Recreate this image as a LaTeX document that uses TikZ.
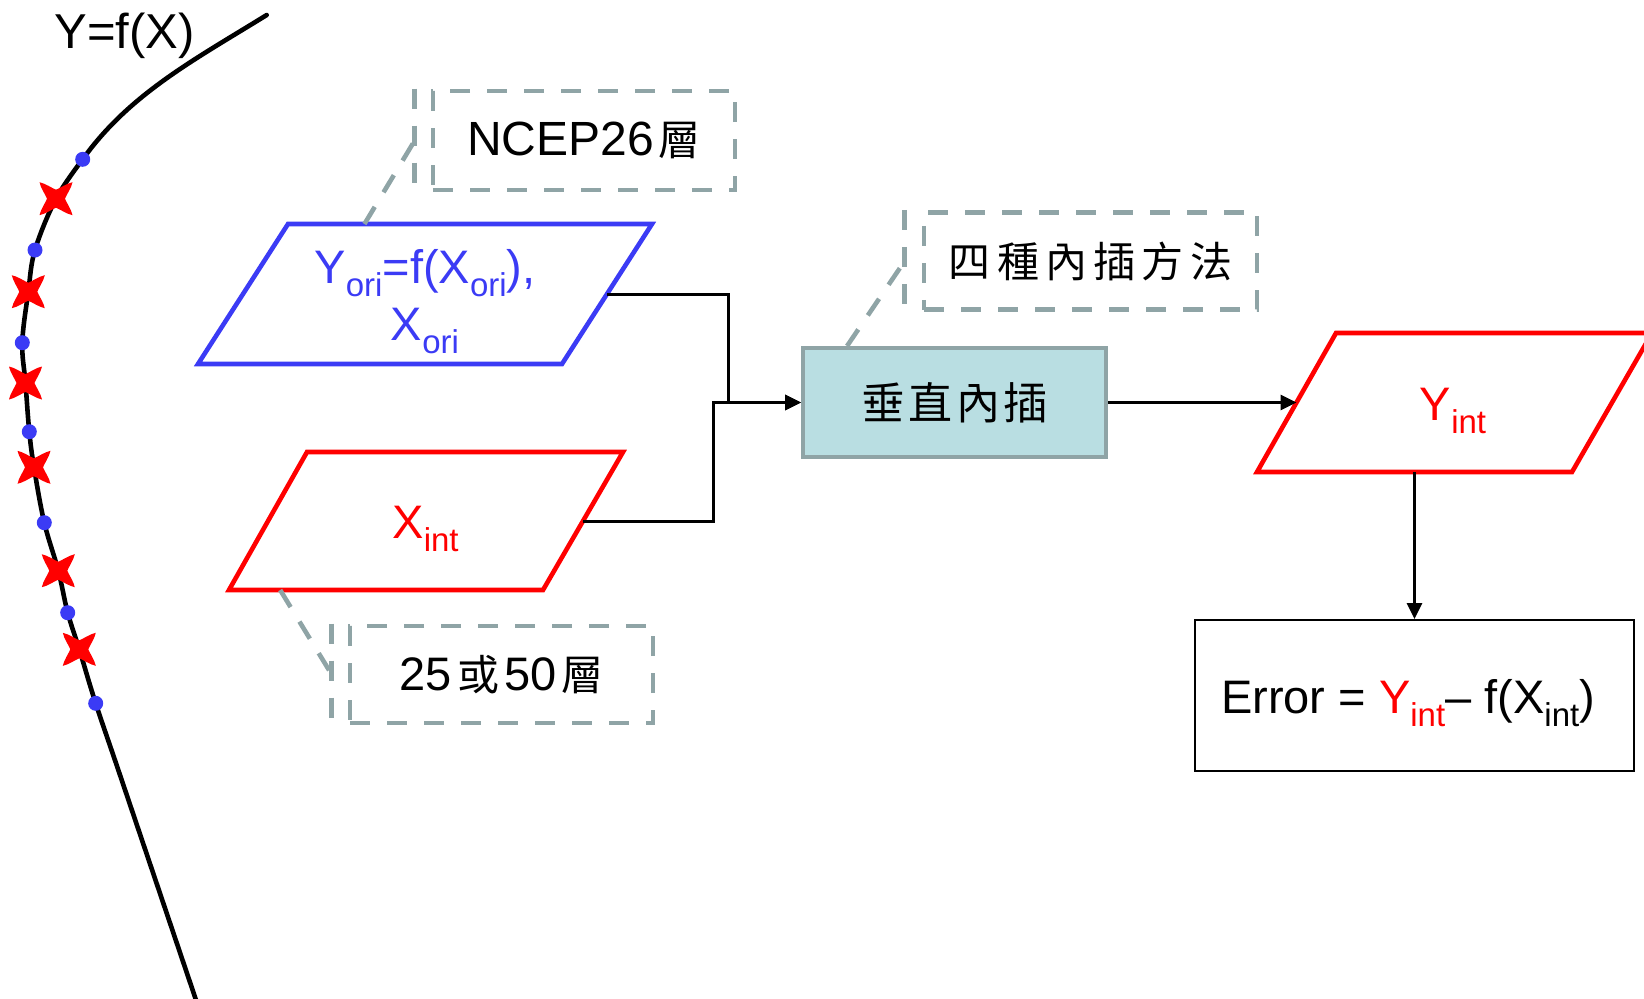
\documentclass[tikz,border=0pt]{standalone}
\usepackage{fontspec}
\setmainfont{Liberation Sans}
\newfontfamily\cjk{Noto Sans CJK TC}
\newfontfamily\cjkspaced[LetterSpace=8]{Noto Sans CJK TC}
\newfontfamily\cjkwide[LetterSpace=15]{Noto Sans CJK TC}
\usetikzlibrary{arrows.meta,calc}

\definecolor{xblue}{RGB}{59,59,245}
\definecolor{xred}{RGB}{255,0,0}
\definecolor{cgray}{RGB}{143,164,166}
\definecolor{procfill}{RGB}{185,222,226}

% lowered, smaller index text
\newcommand\lowidx[1]{\raisebox{-6.6pt}{\fontsize{16.5}{16.5}\selectfont #1}}
% Chinese glyphs inside Latin labels
\newcommand\hz[1]{\hspace{2.5pt}{\cjk\fontsize{21}{26}\selectfont #1}\hspace{2.5pt}}

\tikzset{
  lbl/.style={inner sep=0pt, font=\fontsize{23.5}{28}\selectfont},
  ioline/.style={line width=2.3pt, line join=miter},
  callbox/.style={draw=cgray, line width=2.3pt, dash pattern=on 10pt off 8.5pt,
    inner sep=0pt, font=\fontsize{23.5}{28}\selectfont},
  callline/.style={draw=cgray, line width=2.3pt, dash pattern=on 10pt off 8.5pt},
  procbox/.style={draw=cgray, fill=procfill, line width=2pt,
    minimum width=151.5pt, minimum height=54.5pt, inner sep=0pt,
    font=\cjkspaced\fontsize{22}{26}\selectfont},
  errbox/.style={draw=black, line width=1pt, minimum width=219.5pt, minimum height=75.5pt},
  conn/.style={line width=1.5pt, -{Triangle[length=8pt,width=7.5pt]}},
  curve/.style={line width=2.3pt, line cap=round},
  % four-petal cross marker
  redx/.pic={\fill[xred]
      (16.5,16.5) .. controls (11,15.5) and (3,10) .. (0,9)
      .. controls (-3,10) and (-11,15.5) .. (-16.5,16.5)
      .. controls (-15.5,11) and (-10,3) .. (-9,0)
      .. controls (-10,-3) and (-15.5,-11) .. (-16.5,-16.5)
      .. controls (-11,-15.5) and (-3,-10) .. (0,-9)
      .. controls (3,-10) and (11,-15.5) .. (16.5,-16.5)
      .. controls (15.5,-11) and (10,-3) .. (9,0)
      .. controls (10,3) and (15.5,11) .. (16.5,16.5) -- cycle;}
}

\begin{document}
\begin{tikzpicture}[x=0.5pt,y=-0.5pt]
\useasboundingbox (0,0) rectangle (1644,998);
\clip (0,0) rectangle (1644,998);

% profile curve: upper arc, then the sampled lower part
\draw[curve] (266.7,15) .. controls (196.7,58.4) and (129.7,93.3) .. (82.7,159.3);
\draw[curve] plot[smooth, tension=0.6] coordinates {
  (82.7,159.3) (56,198.7) (35,250) (28.3,291.7)
  (22.3,342.7) (25.5,383) (29.3,431.7) (34,467.3) (44.3,522.7) (58.3,570.7)
  (67.7,612.7) (79.3,649.3) (95.7,703.3) (121.7,780) (196,1000)};
\foreach \p in {(82.7,159.3),(35,250),(22.3,342.7),(29.3,431.7),(44.3,522.7),(67.7,612.7),(95.7,703.3)}
  \fill[xblue] \p circle[radius=3.75pt];
\foreach \p in {(56,198.7),(28.3,291.7),(25.5,383),(34,467.3),(58.3,570.7),(79.3,649.3)}
  \pic at \p {redx};
\node[lbl, font=\fontsize{24.5}{28}\selectfont, anchor=base west] (fx) at (54,48) {Y=f(X)};

% original profile (blue input)
\coordinate (pb-tl) at (288,224);
\coordinate (pb-tr) at (652,224);
\coordinate (pb-br) at (562,364);
\coordinate (pb-bl) at (198,364);
\draw[ioline, xblue] (pb-tl) -- (pb-tr) -- (pb-br) -- (pb-bl) -- cycle;
\coordinate (pb-e) at ($(pb-tr)!0.5!(pb-br)$);
\node[lbl, text=xblue, anchor=base] (pb-t1) at (425,283) {Y\lowidx{ori}=f(X\lowidx{ori}),};
\node[lbl, text=xblue, anchor=base] (pb-t2) at (425,340) {X\lowidx{ori}};

% target levels (red input)
\coordinate (xr-tl) at (307,452);
\coordinate (xr-tr) at (623,452);
\coordinate (xr-br) at (543,590);
\coordinate (xr-bl) at (229,590);
\draw[ioline, xred] (xr-tl) -- (xr-tr) -- (xr-br) -- (xr-bl) -- cycle;
\coordinate (xr-e) at ($(xr-tr)!0.5!(xr-br)$);
\node[lbl, text=xred, anchor=base] (xr-t) at (425.5,538) {X\lowidx{int}};

% interpolated output
\coordinate (yi-tl) at (1336,333);
\coordinate (yi-tr) at (1652,333);
\coordinate (yi-br) at (1572,472);
\coordinate (yi-bl) at (1257,472);
\draw[ioline, xred] (yi-tl) -- (yi-tr) -- (yi-br) -- (yi-bl) -- cycle;
\coordinate (yi-w) at ($(yi-tl)!0.5!(yi-bl)$);
\coordinate (yi-s) at ($(yi-bl)!0.5!(yi-br)$);
\node[lbl, text=xred, anchor=base] (yi-t) at (1453,420) {Y\lowidx{int}};

% process and error boxes
\node[procbox] (proc) at (954.5,402.5) {垂直內插};
\node[errbox] (err) at (1414.5,695.5) {};
\node[lbl, anchor=base] (err-t) at (1408,713)
  {Error = \textcolor{xred}{Y\lowidx{int}}– f(X\lowidx{int})};

% connectors
\draw[conn] (pb-e) -- ++(121,0) |- (proc.west);
\draw[conn] (xr-e) -- ++(130,0) |- (proc.west);
\draw[conn] (proc.east) -- (yi-w);
\draw[conn] (yi-s) -- (err.north);

% callouts
\node[callbox, minimum width=151pt, minimum height=49.5pt] (c1) at (584,140.5)
  {\fontsize{24}{28}\selectfont NCEP26\hz{層}};
\coordinate (c1-bt) at ($(c1.north west)+(-16,0)$);
\coordinate (c1-bb) at ($(c1.south west)+(-16,0)$);
\coordinate (c1-bm) at ($(c1.west)+(-16,0)$);
\draw[callline] (c1-bt) -- (c1-bb);
\draw[callline] ($(pb-tl)!0.21!(pb-tr)$) -- (c1-bm);

\node[callbox, minimum width=166.5pt, minimum height=48.75pt] (c2) at (1090.5,261)
  {\cjkwide\fontsize{21}{24}\selectfont 四種內插方法};
\coordinate (c2-bt) at ($(c2.north west)+(-17,0)$);
\coordinate (c2-bb) at ($(c2.south west)+(-17,0)$);
\coordinate (c2-bm) at ($(c2.west)+(-17,0)$);
\draw[callline] (c2-bt) -- (c2-bb);
\draw[callline] ($(proc.north west)!0.15!(proc.north east)$) -- (c2-bm);

\node[callbox, minimum width=151.5pt, minimum height=48.5pt] (c3) at (501.5,674.5)
  {25\hz{或}50\hz{層}};
\coordinate (c3-bt) at ($(c3.north west)+(-16,0)$);
\coordinate (c3-bb) at ($(c3.south west)+(-16,0)$);
\coordinate (c3-bm) at ($(c3.west)+(-16,0)$);
\draw[callline] (c3-bt) -- (c3-bb);
\draw[callline] ($(xr-bl)!0.163!(xr-br)$) -- (c3-bm);
\end{tikzpicture}
\end{document}
